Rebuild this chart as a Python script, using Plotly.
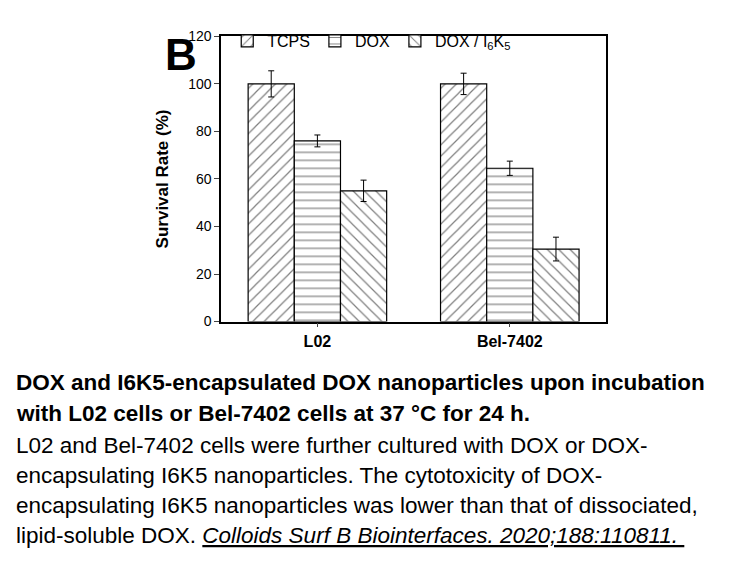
import plotly.graph_objects as go

cells = ["L02", "Bel-7402"]
series = ["TCPS", "DOX", "DOX / I<sub>6</sub>K<sub>5</sub>"]
values = [[100, 100], [76, 64.5], [55, 30.5]]
errors = [[5.5, 4.5], [2.5, 3], [4.5, 5]]
patterns = ["/", "-", "\\"]
y_ticks = [0, 20, 40, 60, 80, 100, 120]

caption = [
    ("<b>DOX and I6K5-encapsulated DOX nanoparticles upon incubation</b>", 0.34),
    ("<b>with L02 cells or Bel-7402 cells at 37 °C for 24 h.</b>", 0.285),
    ("L02 and Bel-7402 cells were further cultured with DOX or DOX-", 0.228),
    ("encapsulating I6K5 nanoparticles. The cytotoxicity of DOX-", 0.175),
    ("encapsulating I6K5 nanoparticles was lower than that of dissociated,", 0.122),
    ("lipid-soluble DOX. <u><i>Colloids Surf B Biointerfaces. 2020;188:110811. </i></u>", 0.069),
]

fig = go.Figure()
for name, vals, errs, pat in zip(series, values, errors, patterns):
    fig.add_trace(go.Bar(
        x=cells, y=vals, name=name,
        marker=dict(color="white", line=dict(color="black", width=1.2),
                    pattern=dict(shape=pat, fgcolor="black", size=8, solidity=0.15)),
        error_y=dict(type="data", array=errs, color="black", thickness=1, width=3),
    ))

for text, y in caption:
    fig.add_annotation(text=text, x=0.008, y=y, xref="paper", yref="paper",
                       xanchor="left", yanchor="middle", showarrow=False,
                       font=dict(size=22.5, color="black", family="Arial"))

fig.add_annotation(text="<b>B</b>", x=0.205, y=0.965, xref="paper", yref="paper",
                   showarrow=False, font=dict(size=44, color="black", family="Arial"))

fig.update_layout(
    width=756, height=567, margin=dict(l=0, r=0, t=0, b=0),
    paper_bgcolor="white", plot_bgcolor="white",
    barmode="group", bargap=0.28, bargroupgap=0,
    font=dict(family="Arial", color="black"),
    legend=dict(orientation="h", x=0.29, y=0.972, xanchor="left", yanchor="top",
                font=dict(size=16), bgcolor="rgba(0,0,0,0)", itemwidth=30),
    xaxis=dict(domain=[0.282, 0.791], showline=True, linecolor="black", mirror=True,
               linewidth=1.5, tickfont=dict(size=16, family="Arial"),
               tickprefix="<b>", ticksuffix="</b>",
               ticks="outside", ticklen=4, automargin=False),
    yaxis=dict(domain=[0.447, 0.95], range=[0, 120], tickvals=y_ticks,
               showline=True, linecolor="black", mirror=True, linewidth=1.5,
               ticks="outside", ticklen=5, showgrid=False, tickfont=dict(size=14),
               automargin=False,
               title=dict(text="<b>Survival Rate (%)</b>", font=dict(size=17))),
)

fig.write_html("out.html")
